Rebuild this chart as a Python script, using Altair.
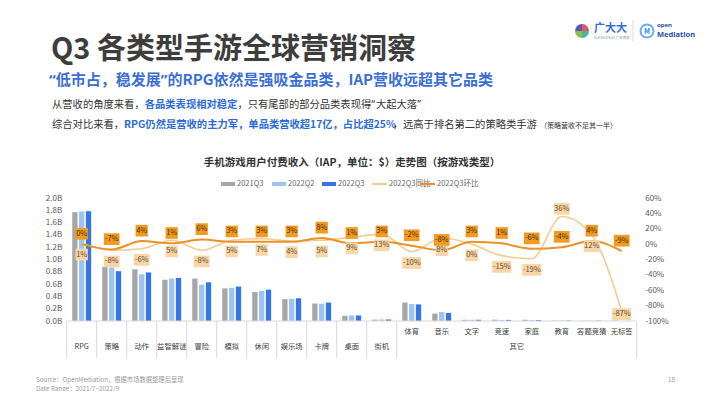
import altair as alt
import pandas as pd
import math

# ---------------- data ----------------
categories = ["RPG", "策略", "动作", "益智解谜", "冒险", "模拟", "休闲", "娱乐场", "卡牌", "桌面", "街机",
              "体育", "音乐", "文字", "竞速", "家庭", "教育", "答题竞猜", "无标签"]
other_group = ["体育", "音乐", "文字", "竞速", "家庭", "教育", "答题竞猜", "无标签"]
series_names = ["2021Q3", "2022Q2", "2022Q3"]
rev_2021q3 = [1.77, 0.88, 0.84, 0.67, 0.69, 0.53, 0.47, 0.355, 0.285, 0.085, 0.022,
              0.30, 0.12, 0.02, 0.021, 0.02, 0.006, 0.0045, 0.008]
rev_2022q2 = [1.78, 0.87, 0.76, 0.69, 0.59, 0.54, 0.49, 0.36, 0.28, 0.09, 0.024,
              0.275, 0.145, 0.02, 0.018, 0.017, 0.0085, 0.0048, 0.0011]
rev_2022q3 = [1.785, 0.81, 0.79, 0.70, 0.63, 0.56, 0.51, 0.37, 0.30, 0.09, 0.025,
              0.27, 0.13, 0.02, 0.018, 0.016, 0.008, 0.005, 0.001]
yoy_pct = [1, -8, -6, 5, -8, 5, 7, 4, 5, 9, 13, -10, 8, 0, -15, -19, 36, 12, -87]
qoq_pct = [0, -7, 4, 1, 6, 3, 3, 3, 8, 1, 3, -2, -8, 3, 1, -6, -4, 4, -9]
line_names = ["2022Q3同比", "2022Q3环比"]
left_ticks = [round(i * 0.2, 1) for i in range(11)]
right_ticks = list(range(-100, 61, 20))

# ---------------- style / layout ----------------
FONT = "Noto Sans CJK SC"
LATIN = "Noto Sans"
GRAY, LBLUE, BLUE = "#a6a6a6", "#9dc3f3", "#3575e6"
LOR, DOR = "#f6cb90", "#eb9128"
BOX_D, BOX_L = "#f19b22", "#f9d6a6"
X0, Y0 = 66.7, 198.0          # page position of plot origin
W, H = 570, 123
N = len(categories)
STEP = W / N


def px(x):
    return x - X0


def py(y):
    return y - Y0


dummy = pd.DataFrame({"d": [0]})


def txt(s, x, y, size, color, weight="normal", align="left", baseline="middle", font=FONT):
    return alt.Chart(dummy).mark_text(
        text=s, align=align, baseline=baseline, fontSize=size, color=color,
        fontWeight=weight, font=font
    ).encode(x=alt.value(px(x)), y=alt.value(py(y)))


def tw(s, fs, bold=False, latin=False):
    w = 0.0
    for ch in s:
        if ch in "“”":
            w += 0.45 if latin else 1.0
        elif ord(ch) > 0x2E80:
            w += 1.0
        elif ch.isdigit():
            w += 0.56
        elif ch == "%":
            w += 0.86
        elif ch.isupper():
            w += 0.66 if bold else 0.62
        elif ch == " ":
            w += 0.25
        else:
            w += 0.5
    return w * fs


def rich(segments, x, y, base_size):
    out = []
    for s, size, color, bold, latin, gap in segments:
        x += gap
        out.append(txt(s, x, y + (1 if size < base_size else 0), size, color,
                       weight="bold" if bold else "normal", font=LATIN if latin else FONT))
        x += tw(s, size, bold, latin)
    return out


xscale = alt.Scale(domain=categories, paddingInner=0, paddingOuter=0)
X = alt.X("cat:N", scale=xscale, axis=None, title=None)

# ---------------- bars ----------------
rows = []
for i, c in enumerate(categories):
    for s, vals in zip(series_names, [rev_2021q3, rev_2022q2, rev_2022q3]):
        rows.append({"cat": c, "series": s, "value": vals[i]})
bars_df = pd.DataFrame(rows)

bars = alt.Chart(bars_df).mark_bar().encode(
    x=X,
    xOffset=alt.XOffset("series:N", scale=alt.Scale(domain=series_names, paddingInner=0.22, paddingOuter=0.815)),
    y=alt.Y("value:Q", scale=alt.Scale(domain=[0, 2.0], nice=False),
            axis=alt.Axis(values=left_ticks, labelExpr="format(datum.value, '.1f') + 'B'",
                          ticks=False, domain=False, grid=False, labelFontSize=8,
                          labelColor="#595959", labelPadding=5, labelFont=FONT),
            title=None),
    color=alt.Color("series:N", scale=alt.Scale(domain=series_names, range=[GRAY, LBLUE, BLUE]), legend=None),
)

# ---------------- lines + labels (right axis) ----------------
line_df = pd.DataFrame({
    "cat": categories * 2,
    "idx": list(range(N)) * 2,
    "metric": ["同比"] * N + ["环比"] * N,
    "pct": yoy_pct + qoq_pct,
})
yr_scale = alt.Scale(domain=[-100, 60], nice=False)
yr_axis = alt.Axis(orient="right", values=right_ticks, labelExpr="datum.value + '%'",
                   ticks=False, domain=False, grid=False, labelFontSize=8,
                   labelColor="#595959", labelPadding=8, labelFont=FONT)


def YR(field):
    return alt.Y(f"{field}:Q", scale=yr_scale, axis=yr_axis, title=None)


base_r = alt.Chart(line_df)
yoy_base = base_r.transform_filter("datum.metric == '同比'")
qoq_base = base_r.transform_filter("datum.metric == '环比'")

line_yoy = yoy_base.mark_line(interpolate="monotone", color=LOR, strokeWidth=1.6).encode(
    x=X, y=YR("pct"), order="idx:Q")
line_qoq = qoq_base.mark_line(interpolate="monotone", color=DOR, strokeWidth=2).encode(
    x=X, y=YR("pct"), order="idx:Q")


def label_layers(base, offset_expr, box_color, text_color):
    b = base.transform_calculate(
        lab="datum.pct + '%'",
        w="5.5 + 3.4 * length(datum.pct + '%')",
        lab_y=offset_expr,
    ).transform_calculate(lo="datum.lab_y - 7.6", hi="datum.lab_y + 7.6")
    box = b.mark_bar(color=box_color).encode(
        x=X, y=YR("lo"), y2="hi:Q", size=alt.Size("w:Q", scale=None))
    tx = b.mark_text(fontSize=7.5, color=text_color, font=FONT).encode(
        x=X, y=YR("lab_y"), text="lab:N")
    return box, tx


box_l, txt_l = label_layers(
    yoy_base,
    "datum.cat == '教育' ? datum.pct + 10 : (datum.cat == '无标签' ? datum.pct - 4 : "
    "(datum.cat == '音乐' ? datum.pct - 16 : datum.pct - 14.5))",
    BOX_L, "#5e4a30")
box_d, txt_d = label_layers(qoq_base, "datum.pct + 13.5", BOX_D, "#4a2e0c")

right_group = alt.layer(line_yoy, line_qoq, box_l, box_d, txt_l, txt_d)

# ---------------- category axis (two levels) ----------------
cat_df = pd.DataFrame({"cat": categories, "grp": ["其它" if c in other_group else "" for c in categories]})
cat_main = alt.Chart(cat_df).transform_filter("datum.grp == ''").mark_text(
    fontSize=7.3, color="#404040", font=FONT, baseline="middle").encode(x=X, y=alt.value(py(346.5)), text="cat:N")
cat_sub = alt.Chart(cat_df).transform_filter("datum.grp != ''").mark_text(
    fontSize=7.3, color="#404040", font=FONT, baseline="middle").encode(x=X, y=alt.value(py(331.5)), text="cat:N")
first_other = categories.index(other_group[0])
grp_x = X0 + STEP * (first_other + len(other_group) / 2)
grp_label = txt("其它", grp_x, 347, 7.3, "#404040", align="center")

sep_df = pd.DataFrame({"cat": categories[: first_other + 1]})
seps = alt.Chart(sep_df).mark_rule(color="#d9d9d9", strokeWidth=1).encode(
    x=alt.X("cat:N", scale=xscale, axis=None, bandPosition=0),
    y=alt.value(py(321)), y2=alt.value(py(358)))
sep_end = alt.Chart(pd.DataFrame({"cat": [categories[-1]]})).mark_rule(color="#d9d9d9", strokeWidth=1).encode(
    x=alt.X("cat:N", scale=xscale, axis=None, bandPosition=1),
    y=alt.value(py(321)), y2=alt.value(py(358)))
xline = alt.Chart(dummy).mark_rule(color="#d9d9d9", strokeWidth=1).encode(
    x=alt.value(0), x2=alt.value(W), y=alt.value(H))

# ---------------- legend ----------------
leg_y = 184
legend_layers = []
for x0, name, col in [(221, series_names[0], GRAY), (272, series_names[1], LBLUE), (322, series_names[2], BLUE)]:
    legend_layers.append(alt.Chart(dummy).mark_rect(color=col).encode(
        x=alt.value(px(x0)), x2=alt.value(px(x0 + 14)), y=alt.value(py(leg_y - 2)), y2=alt.value(py(leg_y + 2))))
    legend_layers.append(txt(name, x0 + 16, leg_y, 7.5, "#666666"))
for x0, name, col in [(372, line_names[0], LOR), (420, line_names[1], DOR)]:
    legend_layers.append(alt.Chart(dummy).mark_rule(color=col, strokeWidth=2).encode(
        x=alt.value(px(x0)), x2=alt.value(px(x0 + 15)), y=alt.value(py(leg_y))))
    legend_layers.append(txt(name, x0 + 17, leg_y, 7.5, "#666666"))

chart_title = txt("手机游戏用户付费收入（IAP，单位：$）走势图（按游戏类型）", 352, 163, 10.5, "#333333",
                  weight="bold", align="center")

# ---------------- slide texts ----------------
slide = []
slide.append(txt("Q3 各类型手游全球营销洞察", 51, 50, 29, "#3d3d3d", weight="bold"))

SUB = 15
SUBC = "#3b6fd3"
slide += rich([("“", SUB, SUBC, True, True, 0),
               ("低市占，稳发展", SUB, SUBC, True, False, 0),
               ("”", SUB, SUBC, True, True, 0),
               ("的RPG依然是强吸金品类，IAP营收远超其它品类", SUB, SUBC, True, False, 0)], 49, 80, SUB)

BODY = 10.3
slide += rich([("从营收的角度来看，", BODY, "#333333", False, False, 0),
               ("各品类表现相对稳定", BODY, "#2f6ad9", True, False, 0),
               ("，只有尾部的部分品类表现得", BODY, "#333333", False, False, 0),
               ("“", BODY, "#333333", False, True, 0),
               ("大起大落", BODY, "#333333", False, False, 0),
               ("”", BODY, "#333333", False, True, 0)], 52, 105, BODY)
slide += rich([("综合对比来看，", BODY, "#333333", False, False, 0),
               ("RPG仍然是营收的主力军，单品类营收超17亿，占比超25%", BODY, "#2f6ad9", True, False, 0),
               ("，远高于排名第二的策略类手游", BODY, "#333333", False, False, 0),
               ("（策略营收不足其一半）", 7, "#333333", False, False, 3)], 52, 125, BODY)

slide.append(txt("Source：OpenMediation，根据市场数据整理后呈现", 36, 380, 6.3, "#9a9a9a"))
slide.append(txt("Date Range：2021/7~2022/9", 36, 388.5, 6.3, "#9a9a9a"))
slide.append(txt("18", 668, 380, 6.3, "#9a9a9a"))

# logos
logo = []
for t0, t1, col in [(0, math.pi / 2, "#e8546c"), (math.pi / 2, math.pi, "#45b8a4"),
                    (math.pi, 1.5 * math.pi, "#8cc152"), (1.5 * math.pi, 2 * math.pi, "#5b5aa8")]:
    logo.append(alt.Chart(dummy).mark_arc(theta=t0, theta2=t1, outerRadius=7, color=col).encode(
        x=alt.value(px(582)), y=alt.value(py(31))))
logo.append(txt("广大大", 594, 29, 11, "#2f6fd6", weight="bold"))
logo.append(txt("GUANGDADA 广告情报", 594, 38, 3.5, "#8a9ab5"))
logo.append(alt.Chart(dummy).mark_rule(color="#dddddd").encode(
    x=alt.value(px(633)), y=alt.value(py(20)), y2=alt.value(py(42))))
logo.append(alt.Chart(dummy).mark_point(shape="circle", size=170, filled=False, color="#2e8ae6", strokeWidth=2).encode(
    x=alt.value(px(647)), y=alt.value(py(31))))
logo.append(txt("M", 647, 31.5, 7, "#2e8ae6", weight="bold", align="center"))
logo.append(txt("open", 657, 25, 6, "#1f4fa8", weight="bold", font=LATIN))
logo.append(txt("Mediation", 657, 34.5, 7.5, "#1f4fa8", weight="bold", font=LATIN))

chart = alt.layer(
    bars, right_group,
    xline, seps, sep_end, cat_main, cat_sub, grp_label,
    chart_title, *legend_layers, *slide, *logo
).resolve_scale(y="independent").properties(
    width=W, height=H,
    autosize=alt.AutoSizeParams(type="none"),
    padding={"left": X0 - 8, "top": Y0 - 8, "right": 694 - (X0 - 8) - W, "bottom": 70},
    background="white",
).configure_view(stroke=None)

chart.save("out.html", embed_options={"renderer": "svg", "actions": False})
